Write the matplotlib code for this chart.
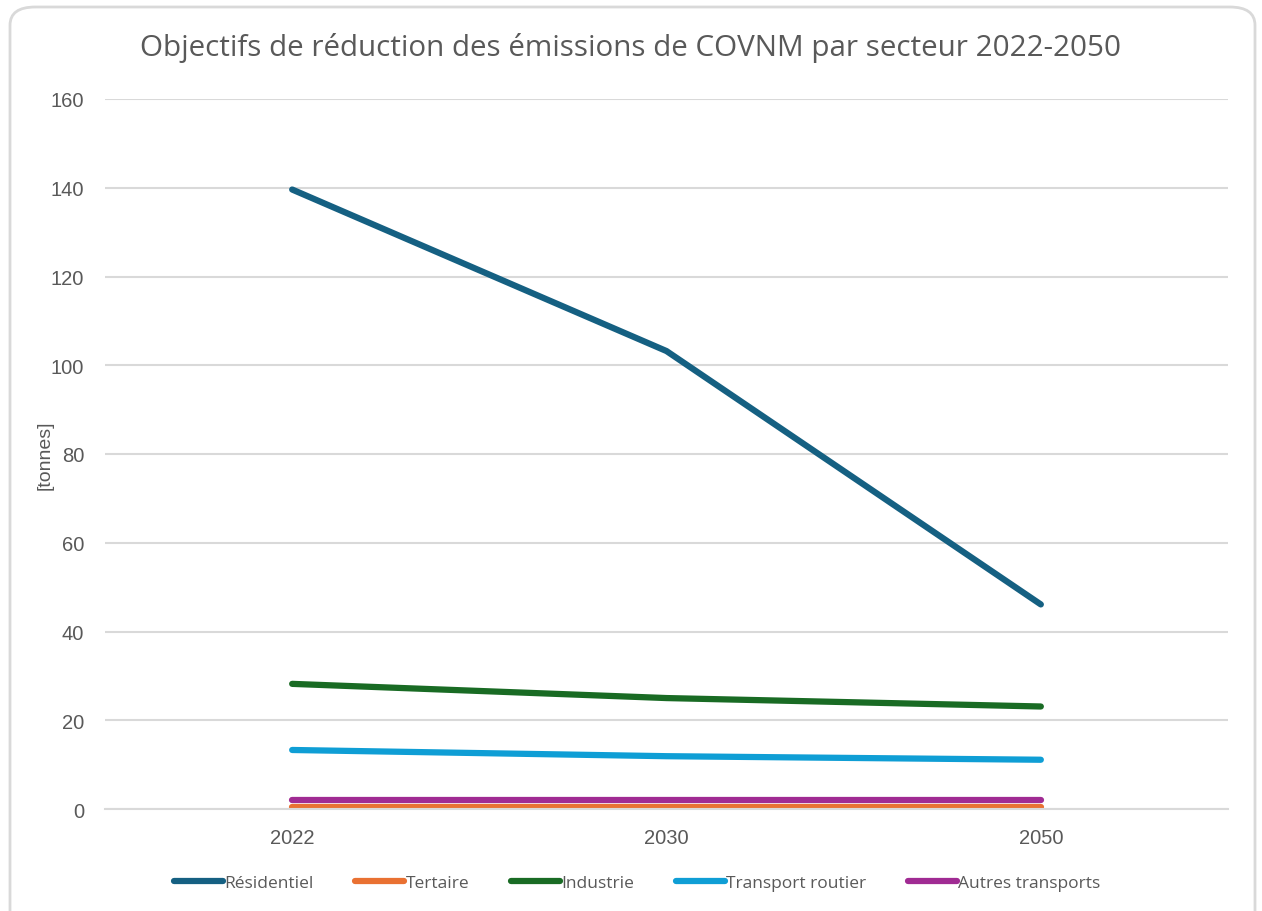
import matplotlib
matplotlib.use("Agg")
import matplotlib.pyplot as plt
from matplotlib.patches import FancyBboxPatch

plt.rcParams['font.family'] = ['Open Sans', 'DejaVu Sans']

years = ['2022', '2030', '2050']
residentiel = [139.6, 103.2, 46.1]
tertaire = [0.5, 0.5, 0.5]
industrie = [28.2, 25.0, 23.1]
transport_routier = [13.3, 11.9, 11.1]
autres_transports = [2.0, 2.0, 2.0]

series = [
    ('Résidentiel', residentiel, '#156082'),
    ('Tertaire', tertaire, '#E97132'),
    ('Industrie', industrie, '#196B24'),
    ('Transport routier', transport_routier, '#0F9ED5'),
    ('Autres transports', autres_transports, '#A02B93'),
]

grey = '#595959'
tick_font = ['Liberation Sans', 'DejaVu Sans']

fig = plt.figure(figsize=(12.62, 9.12), dpi=100, facecolor='white')
# rounded chart border
fig.patches.append(FancyBboxPatch((10 / 1262, -20 / 912), 1245 / 1262, 924 / 912,
                                  boxstyle='round,pad=0,rounding_size=0.02',
                                  transform=fig.transFigure, facecolor='none',
                                  edgecolor='#D9D9D9', linewidth=2, zorder=-1))

ax = fig.add_axes([105 / 1262, 1 - 810 / 912, 1123 / 1262, 710 / 912])
ax.set_facecolor('none')

x = list(range(len(years)))
for name, vals, col in series:
    ax.plot(x, vals, color=col, linewidth=4.5, solid_capstyle='round', label=name)

ax.set_xlim(-0.5, 2.5)
ax.set_ylim(0, 160)
ax.set_yticks(range(0, 161, 20))
ax.set_xticks(x)
ax.set_xticklabels(years)
ax.grid(axis='y', color='#D9D9D9', linewidth=1.5)
ax.set_axisbelow(True)
for s in ['top', 'right', 'left']:
    ax.spines[s].set_visible(False)
ax.spines['bottom'].set_color('#D9D9D9')
ax.spines['bottom'].set_linewidth(1.5)
ax.tick_params(axis='both', length=0, labelsize=14.5, colors=grey)
ax.tick_params(axis='y', pad=15)
ax.tick_params(axis='x', pad=14)
for lab in ax.get_xticklabels() + ax.get_yticklabels():
    lab.set_family(tick_font)
ax.set_ylabel('[tonnes]', fontsize=14, color=grey, labelpad=-2, family=tick_font)

fig.text(0.5, 1 - 48 / 912, 'Objectifs de réduction des émissions de COVNM par secteur 2022-2050',
         ha='center', va='center', fontsize=21.3, color=grey)

fig.legend(loc='center', bbox_to_anchor=(0.505, 1 - 884 / 912), ncol=5, frameon=False,
           fontsize=12.5, labelcolor=grey, handlelength=2.8, handletextpad=0.1,
           columnspacing=2.4)

fig.savefig('out.png', dpi=100)
